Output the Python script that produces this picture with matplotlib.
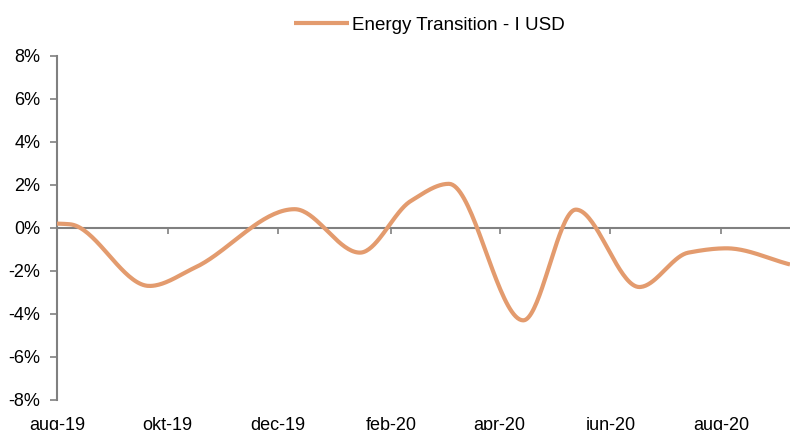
import matplotlib
matplotlib.use("Agg")
import matplotlib.pyplot as plt
import matplotlib.dates as mdates
import numpy as np
import pandas as pd

# Data (monthly return, %)
dates = pd.to_datetime([
    "2019-08-01", "2019-08-08", "2019-09-21", "2019-10-16", "2019-12-10",
    "2020-01-15", "2020-02-12", "2020-03-04", "2020-04-14", "2020-05-13",
    "2020-06-17", "2020-07-14", "2020-08-04", "2020-09-08",
])
values = [0.20, 0.17, -2.70, -1.85, 0.87, -1.15, 1.25, 2.05, -4.30, 0.85,
          -2.75, -1.15, -0.95, -1.70]
tick_dates = pd.to_datetime(["2019-08-01", "2019-10-01", "2019-12-01", "2020-02-01",
                             "2020-04-01", "2020-06-01", "2020-08-01"])
tick_labels = ["aug-19", "okt-19", "dec-19", "feb-20", "apr-20", "jun-20", "aug-20"]
y_ticks = [-8, -6, -4, -2, 0, 2, 4, 6, 8]
series_name = "Energy Transition - I USD"


def pchip(x, y, n=40):
    # monotone cubic (Fritsch-Carlson) so the smoothed line doesn't overshoot
    x = np.asarray(x, float)
    y = np.asarray(y, float)
    h = np.diff(x)
    d = np.diff(y) / h
    m = np.zeros_like(y)
    for k in range(1, len(x) - 1):
        if d[k - 1] * d[k] > 0:
            w1 = 2 * h[k] + h[k - 1]
            w2 = h[k] + 2 * h[k - 1]
            m[k] = (w1 + w2) / (w1 / d[k - 1] + w2 / d[k])
    m[0] = d[0] * 0.5
    m[-1] = d[-1]
    xs, ys = [], []
    for k in range(len(x) - 1):
        t = np.linspace(0, 1, n)
        h00 = 2 * t**3 - 3 * t**2 + 1
        h10 = t**3 - 2 * t**2 + t
        h01 = -2 * t**3 + 3 * t**2
        h11 = t**3 - t**2
        xs.append(x[k] + t * h[k])
        ys.append(h00 * y[k] + h10 * h[k] * m[k] + h01 * y[k + 1] + h11 * h[k] * m[k + 1])
    return np.concatenate(xs), np.concatenate(ys)


plt.rcParams['font.family'] = ['Liberation Sans', 'DejaVu Sans']
plt.rcParams['font.size'] = 13

fig = plt.figure(figsize=(7.9, 4.3), dpi=100)
ax = fig.add_axes([0.072, 0.07, 0.928, 0.8])

xnum = mdates.date2num(dates)
sx, sy = pchip(xnum, values)
line, = ax.plot(sx, sy, color='#E39B6E', linewidth=3, solid_capstyle='butt',
                label=series_name, zorder=3)

ax.set_xlim(xnum[0], xnum[-1])
ax.set_ylim(-8, 8)
ax.set_yticks(y_ticks)
ax.set_yticklabels([f"{v}%" for v in y_ticks])

for s in ['top', 'right', 'bottom']:
    ax.spines[s].set_visible(False)
ax.spines['left'].set_color('#808080')
ax.spines['left'].set_linewidth(1.5)
ax.tick_params(axis='y', direction='out', length=5, width=1.2, color='#808080', pad=7)

# x labels at bottom, zero line with ticks in the middle
ax.set_xticks(mdates.date2num(tick_dates))
ax.set_xticklabels(tick_labels)
ax.tick_params(axis='x', length=0, pad=12)

sec = ax.secondary_xaxis(0.5)
sec.set_xticks(mdates.date2num(tick_dates))
sec.set_xticklabels([])
sec.tick_params(axis='x', direction='in', length=4, width=1.2, color='#808080')
for sp in sec.spines.values():
    sp.set_color('#808080')
    sp.set_linewidth(1.5)

fig.legend(handles=[line], loc='center', bbox_to_anchor=(0.544, 0.942),
           frameon=False, handlelength=2.9, handletextpad=0.2, fontsize=13.5)

fig.savefig('out.png', dpi=100)
